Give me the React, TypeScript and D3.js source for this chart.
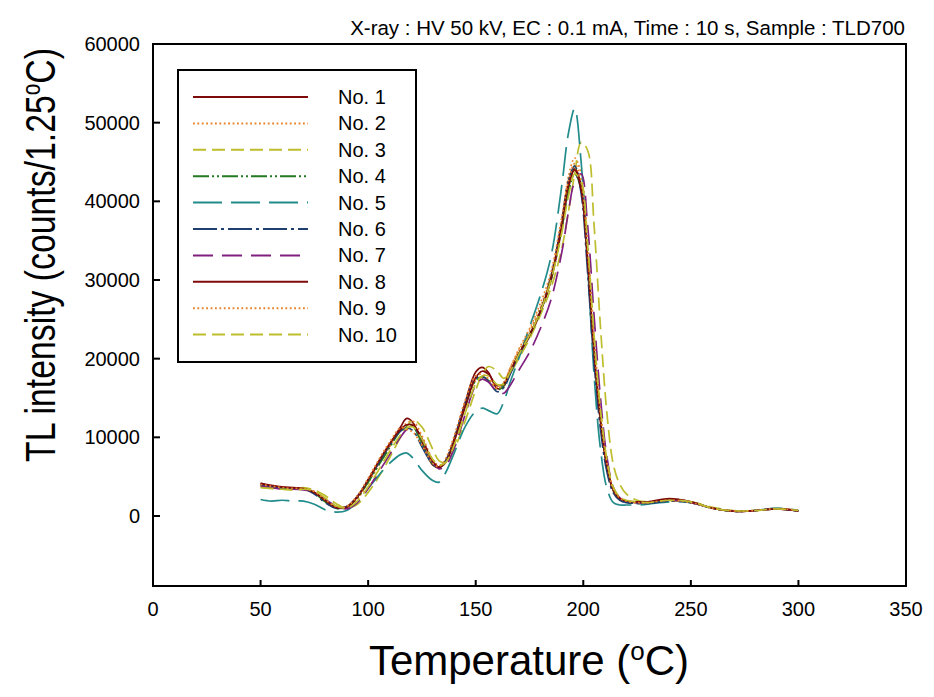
import React from "react";
import * as d3 from "d3";

const temps = [50,55,60,65,70,75,80,85,90,95,100,105,110,115,118,121,125,130,133,136,140,145,150,153,156,160,163,166,170,175,180,185,190,193,196,199,202,205,208,211,214,217,220,225,230,240,250,260,270,280,290,300];

const no1 = [4200,3800,3600,3500,3500,3000,1900,1100,1200,2500,4500,6800,9000,11300,12400,11800,9400,6500,6200,7000,9800,14300,18300,18900,18200,16200,16500,18200,20500,22800,25800,30000,36500,41500,44200,42000,32500,20500,12000,6200,3200,2200,1900,1700,1700,2100,1800,1000,600,700,900,650];
const no2 = [4000,3700,3500,3600,3400,3100,2100,1200,1100,2200,4200,6500,8800,11000,11800,12000,10200,7200,6400,7000,9500,14000,17200,17600,17400,16400,17000,18800,21000,23500,26500,30500,37500,43000,45500,43500,35000,23000,13500,6800,3400,2300,1900,1700,1700,2000,1700,1000,650,700,950,700];
const no3 = [3700,3500,3500,3400,3600,3300,2600,1600,1000,1500,3000,5000,7400,10000,11400,12200,11300,8500,7000,6800,8500,12000,16000,18000,19000,18400,17500,18200,20000,22500,25500,29000,34000,38500,43500,47500,46500,37000,24000,13000,6500,4000,2800,2000,1800,1900,1800,1100,700,700,900,700];
const no4 = [3900,3700,3500,3500,3400,2900,1800,1000,1100,2300,4300,6500,8700,10800,11500,11300,9200,6600,6100,6900,9600,13800,17200,17700,17200,16000,16600,18300,20600,23000,26000,30000,36500,41000,43500,41500,32500,20500,12000,6200,3200,2100,1800,1600,1600,2000,1700,1000,600,700,900,650];
const no5 = [2100,1900,2000,1900,1900,1500,800,500,700,1800,3500,5200,6700,7800,8000,7300,5800,4500,4300,5500,8000,11300,13300,13700,13400,13000,14500,17000,20000,24000,28000,33000,42000,48500,51800,45000,32000,18000,8500,3500,1700,1400,1400,1400,1500,1800,1700,1000,600,700,1000,700];
const no6 = [4000,3700,3500,3400,3400,2800,1700,1000,1200,2500,4600,6800,9000,10800,11200,10800,8800,6600,6200,7000,9800,14200,17500,17800,17100,15800,16300,18000,20500,23000,26000,30500,37500,42500,44500,41000,31000,19500,11000,5600,2900,2000,1700,1600,1600,1900,1700,1000,600,700,900,650];
const no7 = [3800,3600,3400,3400,3300,3000,2100,1300,900,1700,3500,5600,7800,10000,11000,11300,9800,6800,6000,6400,8600,12800,16600,17400,17000,15800,15600,16600,18500,20800,23800,27500,33500,38500,42500,43500,37000,25500,15000,7500,3600,2300,1900,1700,1700,2000,1700,1000,600,700,900,650];
const no8 = [4100,3900,3700,3600,3500,3000,2000,1100,1100,2400,4600,7000,9200,11000,11600,11500,9800,7000,6200,6800,9500,13800,17600,18400,18000,16600,16800,18400,20600,23000,26000,30200,37000,42000,44000,41500,32500,21000,12200,6400,3300,2200,1900,1800,1800,2200,1800,1000,600,700,900,650];
const no9 = [4000,3800,3600,3500,3500,3100,2100,1200,1200,2600,4800,7200,9400,11200,11000,10600,9000,6700,6300,7300,10200,14600,17800,18000,17400,16200,16800,18800,21200,23800,27000,31000,38000,42500,44800,42500,34000,22000,13000,6700,3400,2300,1900,1700,1700,2000,1700,1000,650,700,950,700];
const no10 = [3600,3500,3400,3300,3400,3200,2300,1300,1000,1900,3700,5900,8200,10300,11200,11300,9800,7200,6500,6800,9000,13000,16800,17800,17800,16700,16800,18300,20500,23000,26000,30000,36000,40500,43500,42500,34500,23000,13500,7200,3600,2400,2000,1800,1700,2000,1800,1000,650,700,900,700];

const seriesNames = ["No. 1","No. 2","No. 3","No. 4","No. 5","No. 6","No. 7","No. 8","No. 9","No. 10"];
const seriesValues = [no1,no2,no3,no4,no5,no6,no7,no8,no9,no10];
const seriesColors = ["#7f0a0a","#e8822a","#bdbd2d","#237a23","#228b8b","#1f3f6f","#7f1f7f","#7f0a0a","#e8822a","#bdbd2d"];
const seriesDash = ["", "1.8,2.6", "13,6", "16,3,2,3,2,3", "29,9", "24,4,3,4", "20,9", "", "1.8,2.6", "13,6"];

const xTicks = [0,50,100,150,200,250,300,350];
const yTicks = [0,10000,20000,30000,40000,50000,60000];

const FONT = "'Liberation Sans', Arial, Helvetica, sans-serif";

export default function App() {
  const left = 153, right = 906, top = 44, bottom = 586;
  const x = d3.scaleLinear().domain([0, 350]).range([left, right]);
  const y = d3.scaleLinear().domain([-8900, 60000]).range([bottom, top]);
  const line = d3
    .line<number>()
    .x((_, i) => x(temps[i]))
    .y((d) => y(d))
    .curve(d3.curveCatmullRom.alpha(0.5));

  const legX = 178, legY = 70, legW = 238, legH = 292;
  const rowY0 = 97, rowStep = 26.4;

  return (
    <svg
      width={934}
      height={697}
      style={{ position: "absolute", left: 0, top: 0, display: "block", background: "#fff" }}
      fontFamily={FONT}
    >
      <rect x={0} y={0} width={934} height={697} fill="#fff" />
      {/* header */}
      <text x={905} y={35} textAnchor="end" fontSize={20.5} fill="#000">
        X-ray : HV 50 kV, EC : 0.1 mA, Time : 10 s, Sample : TLD700
      </text>

      {/* series */}
      <g fill="none">
        {seriesValues.map((vals, i) => (
          <path
            key={i}
            d={line(vals) || ""}
            stroke={seriesColors[i]}
            strokeWidth={1.7}
            strokeDasharray={seriesDash[i] || undefined}
          />
        ))}
      </g>

      {/* frame */}
      <rect x={left} y={top} width={right - left} height={bottom - top} fill="none" stroke="#000" strokeWidth={2} />

      {/* x ticks */}
      {xTicks.map((t) => (
        <g key={"x" + t}>
          <line x1={x(t)} x2={x(t)} y1={bottom} y2={bottom - 6} stroke="#000" strokeWidth={2} />
          <text x={x(t)} y={616} textAnchor="middle" fontSize={20}>
            {t}
          </text>
        </g>
      ))}
      {/* y ticks */}
      {yTicks.map((t) => (
        <g key={"y" + t}>
          <line x1={left} x2={left + 7} y1={y(t)} y2={y(t)} stroke="#000" strokeWidth={2} />
          <text x={140} y={y(t) + 7} textAnchor="end" fontSize={20}>
            {t}
          </text>
        </g>
      ))}

      {/* axis titles */}
      <text x={529} y={675} textAnchor="middle" fontSize={42}>
        Temperature (<tspan fontSize={26} dy={-15}>o</tspan>
        <tspan dy={15}>C)</tspan>
      </text>
      <text
        transform="translate(55,255) rotate(-90)"
        textAnchor="middle"
        fontSize={42}
        textLength={414}
        lengthAdjust="spacingAndGlyphs"
      >
        TL intensity (counts/1.25<tspan fontSize={26} dy={-15}>o</tspan>
        <tspan dy={15}>C)</tspan>
      </text>

      {/* legend */}
      <rect x={legX} y={legY} width={legW} height={legH} fill="#fff" stroke="#000" strokeWidth={2} />
      {seriesNames.map((name, i) => {
        const ry = rowY0 + i * rowStep;
        return (
          <g key={name}>
            <line
              x1={193}
              x2={308}
              y1={ry}
              y2={ry}
              stroke={seriesColors[i]}
              strokeWidth={2}
              strokeDasharray={seriesDash[i] || undefined}
            />
            <text x={338} y={ry + 7} fontSize={20}>
              {name}
            </text>
          </g>
        );
      })}
    </svg>
  );
}
